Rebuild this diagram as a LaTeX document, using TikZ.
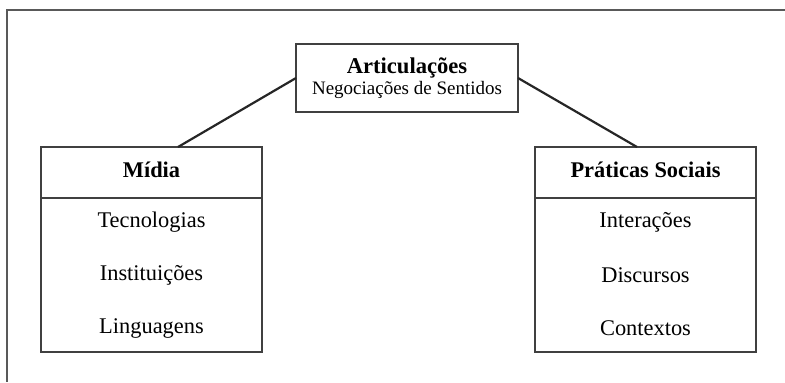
\documentclass[tikz,border=0pt]{standalone}
\usepackage{fontspec}
\setmainfont{Liberation Serif}
\usetikzlibrary{positioning}
\tikzstyle{box} = [rectangle, draw=black!75, line width=0.9pt, inner sep=0pt, outer sep=0pt, minimum width=221*0.5pt]
\tikzstyle{line} = [black!85, line width=1.1pt]
\tikzstyle{item} = [font=\fontsize{11.2}{13}\selectfont]

\begin{document}
\begin{tikzpicture}[x=0.5pt, y=-0.5pt]

\useasboundingbox (0,0) rectangle (785,382);

% outer frame
\draw[black!65, line width=1pt] (785,10) -- (7,10) -- (7,382);

\node[box, minimum width=222*0.5pt, minimum height=68*0.5pt, align=center] (artic) at (407,78)
  {{\fontsize{11.3}{12}\selectfont\bfseries Articulações}\\[-1.5pt]{\fontsize{9.5}{11}\selectfont Negociações de Sentidos}};

% left side

\node[box, minimum height=51*0.5pt, text depth=3pt, item] (midia_head) at (151.5,172.5) {\bfseries Mídia};
\node[box, minimum height=154*0.5pt] (midia_body) at (151.5,275) {};

\node[item] (tecno) at (151.5,222) {Tecnologias};
\node[item] (instit) at (151.5,275) {Instituições};
\node[item] (lingua) at (151.5,328) {Linguagens};

\draw [line] (artic.west) -- ([xshift=13.25pt]midia_head.north);

% right side

\node[box, minimum height=51*0.5pt, text depth=3pt, item] (praticas_head) at (645.5,172.5) {\bfseries Práticas Sociais};
\node[box, minimum height=154*0.5pt] (praticas_body) at (645.5,275) {};

\node[item] (interac) at (645.5,222) {Interações};
\node[item] (discur) at (645.5,275) {Discursos};
\node[item] (context) at (645.5,328) {Contextos};

\draw [line] (artic.east) -- ([xshift=-4.25pt]praticas_head.north);

\end{tikzpicture}
\end{document}
